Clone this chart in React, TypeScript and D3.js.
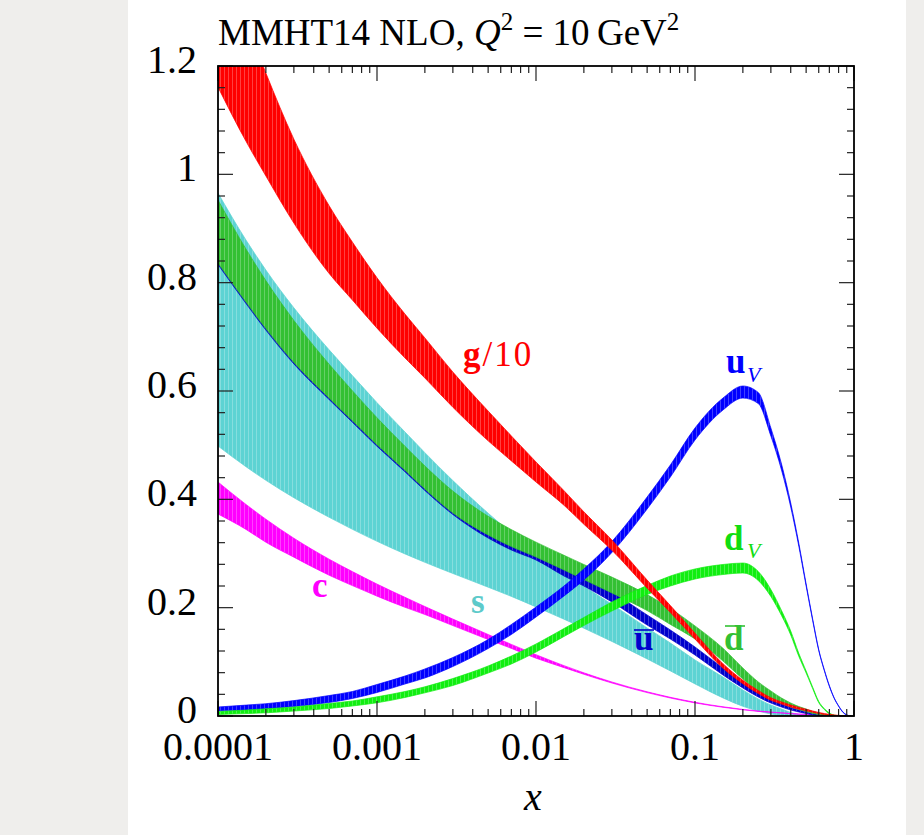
import React from 'react';
import * as d3 from 'd3';

// x grid shared by all bands
const xGrid = [1e-4, 1.5e-4, 2e-4, 3e-4, 5e-4, 7e-4, 1e-3, 1.5e-3, 2e-3, 3e-3, 5e-3, 7e-3, 0.01, 0.015, 0.02, 0.03, 0.05, 0.07, 0.1, 0.15, 0.2, 0.25, 0.3, 0.35, 0.4, 0.45, 0.5, 0.55, 0.6, 0.65, 0.7, 0.75, 0.8, 0.85, 0.9, 0.95];

// g/10
const gUp = [1.399, 1.281, 1.187, 1.065, 0.942, 0.875, 0.809, 0.742, 0.698, 0.635, 0.563, 0.517, 0.469, 0.416, 0.377, 0.325, 0.251, 0.204, 0.153, 0.0965, 0.066, 0.0471, 0.0337, 0.026, 0.0203, 0.0159, 0.0125, 0.0093, 0.0066, 0.0046, 0.0031, 0.002, 0.0012, 0.0005, 0.0002, 0.0001];
const gLo = [1.161, 1.061, 0.997, 0.910, 0.817, 0.768, 0.716, 0.661, 0.624, 0.570, 0.508, 0.471, 0.432, 0.389, 0.354, 0.306, 0.236, 0.191, 0.142, 0.0881, 0.0596, 0.0415, 0.0291, 0.022, 0.0166, 0.0126, 0.0097, 0.0069, 0.0045, 0.0028, 0.0017, 0.0009, 0.0003, 0.0001, 0, 0];

// s (strange)
const sUp = [0.9655, 0.8787, 0.8233, 0.7536, 0.676, 0.6284, 0.5785, 0.5243, 0.4862, 0.4346, 0.3744, 0.3378, 0.3018, 0.2645, 0.2394, 0.2064, 0.1625, 0.1348, 0.1034, 0.072, 0.048, 0.0314, 0.0203, 0.0129, 0.0065, 0.0028, 0.0009, 0, 0, 0, 0, 0, 0, 0, 0, 0];
const sLo = [0.4984, 0.4602, 0.4351, 0.403, 0.3668, 0.3447, 0.3225, 0.2992, 0.2837, 0.2631, 0.2378, 0.2208, 0.2014, 0.1787, 0.1621, 0.1377, 0.1054, 0.0833, 0.0593, 0.0334, 0.0179, 0.0092, 0.0037, 0.0009, 0, 0, 0, 0, 0, 0, 0, 0, 0, 0, 0, 0];

// dbar
const dbUp = [0.9526, 0.8621, 0.8038, 0.7303, 0.6494, 0.6005, 0.5507, 0.4979, 0.4617, 0.4152, 0.3687, 0.3441, 0.321, 0.2967, 0.2797, 0.2564, 0.2241, 0.1986, 0.1663, 0.125, 0.0886, 0.0628, 0.0462, 0.0332, 0.024, 0.0175, 0.0129, 0.0083, 0.0055, 0.0031, 0.0018, 0.0009, 0.0003, 0, 0, 0];
const dbLo = [0.8363, 0.7643, 0.7152, 0.6528, 0.587, 0.5451, 0.5008, 0.4536, 0.4191, 0.3748, 0.3341, 0.3127, 0.2935, 0.2695, 0.252, 0.2271, 0.1946, 0.1691, 0.1421, 0.1015, 0.0683, 0.0462, 0.0332, 0.024, 0.0166, 0.012, 0.0083, 0.0046, 0.0028, 0.0015, 0.0006, 0, 0, 0, 0, 0];

// ubar
const ubUp = [0.8511, 0.7791, 0.73, 0.6676, 0.6018, 0.5599, 0.5156, 0.4684, 0.4339, 0.3896, 0.3471, 0.3231, 0.3028, 0.2769, 0.2584, 0.2289, 0.1865, 0.1588, 0.1274, 0.0886, 0.0628, 0.0443, 0.0314, 0.0222, 0.0157, 0.0111, 0.0074, 0.0046, 0.0028, 0.0015, 0.0006, 0, 0, 0, 0, 0];
const ubLo = [0.8335, 0.7615, 0.7124, 0.65, 0.5842, 0.5423, 0.498, 0.4508, 0.4163, 0.372, 0.3286, 0.3064, 0.288, 0.2585, 0.24, 0.2105, 0.168, 0.1421, 0.1126, 0.0757, 0.0517, 0.0351, 0.024, 0.0166, 0.0111, 0.0074, 0.0046, 0.0024, 0.0011, 0.0004, 0, 0, 0, 0, 0, 0];

// charm
const cUp = [0.432, 0.3906, 0.3633, 0.3282, 0.2895, 0.2666, 0.2435, 0.2191, 0.2021, 0.1789, 0.1505, 0.1322, 0.1132, 0.093, 0.0797, 0.0628, 0.0447, 0.0345, 0.0253, 0.017, 0.0122, 0.0092, 0.0074, 0.0059, 0.0046, 0.0037, 0.0031, 0.0026, 0.002, 0.0017, 0.0013, 0.001, 0.0007, 0.0005, 0.0003, 0.0001];
const cLo = [0.3729, 0.3445, 0.3208, 0.2932, 0.2599, 0.2407, 0.2213, 0.2007, 0.1874, 0.1669, 0.1412, 0.1248, 0.1067, 0.0893, 0.077, 0.0609, 0.0432, 0.0332, 0.0242, 0.0161, 0.0114, 0.0085, 0.0066, 0.0054, 0.0041, 0.0033, 0.0028, 0.0022, 0.0017, 0.0013, 0.0009, 0.0007, 0.0005, 0.0003, 0.0001, 0];

// u valence
const uvUp = [0.0166, 0.0201, 0.0227, 0.0284, 0.0378, 0.0452, 0.0582, 0.0738, 0.0868, 0.108, 0.1412, 0.1689, 0.2012, 0.24, 0.2714, 0.3221, 0.4043, 0.4634, 0.5317, 0.587, 0.6092, 0.5972, 0.5317, 0.4652, 0.3932, 0.3184, 0.2437, 0.1786, 0.1228, 0.0858, 0.0561, 0.0338, 0.0189, 0.0078, 0.0021, 0.0004];
const uvLo = [0.0092, 0.0109, 0.0135, 0.0174, 0.0249, 0.0323, 0.0434, 0.0591, 0.0702, 0.0914, 0.1246, 0.1505, 0.1828, 0.2215, 0.2511, 0.3018, 0.3821, 0.4412, 0.5095, 0.5649, 0.587, 0.5769, 0.5169, 0.4541, 0.3858, 0.3129, 0.24, 0.1758, 0.1209, 0.084, 0.0546, 0.0327, 0.018, 0.007, 0.0016, 0.0002];

// d valence
const dvUp = [0.0083, 0.011, 0.0133, 0.0166, 0.0231, 0.0277, 0.0354, 0.0452, 0.0539, 0.0692, 0.0923, 0.1108, 0.1329, 0.1615, 0.1818, 0.2105, 0.2409, 0.2584, 0.2714, 0.2797, 0.2824, 0.2668, 0.2335, 0.1948, 0.1569, 0.1154, 0.0831, 0.0531, 0.027, 0.0138, 0.0054, 0.0018, 0.0003, 0, 0, 0];
const dvLo = [0.0028, 0.0045, 0.0059, 0.0092, 0.0138, 0.0185, 0.0244, 0.0342, 0.0428, 0.0563, 0.0794, 0.096, 0.1181, 0.1468, 0.1671, 0.1938, 0.2243, 0.24, 0.2529, 0.2612, 0.264, 0.2501, 0.2206, 0.1855, 0.1495, 0.1098, 0.0794, 0.0503, 0.0247, 0.012, 0.0039, 0.0008, 0, 0, 0, 0];

const xTickValues = [1e-4, 1e-3, 1e-2, 1e-1, 1];
const xTickLabels = ['0.0001', '0.001', '0.01', '0.1', '1'];
const yTickValues = [0, 0.2, 0.4, 0.6, 0.8, 1, 1.2];
const yTickLabels = ['0', '0.2', '0.4', '0.6', '0.8', '1', '1.2'];

const bands = [
  { id: 's', up: sUp, lo: sLo, color: '#5dd3d3' },
  { id: 'c', up: cUp, lo: cLo, color: '#ff00ff' },
  { id: 'ub', up: ubUp, lo: ubLo, color: '#0000cc' },
  { id: 'db', up: dbUp, lo: dbLo, color: '#33c033' },
  { id: 'uv', up: uvUp, lo: uvLo, color: '#0000ff' },
  { id: 'dv', up: dvUp, lo: dvLo, color: '#11ee11' },
  { id: 'g', up: gUp, lo: gLo, color: '#ff0000' },
];

const W = 924, H = 835;
const L = 218, R = 854, T = 66, B = 716;
const serif = "'Liberation Serif', 'Times New Roman', serif";

export default function App() {
  const x = d3.scaleLog().domain([1e-4, 1]).range([L, R]);
  const y = d3.scaleLinear().domain([0, 1.2]).range([B, T]);

  const minorX: number[] = [];
  for (let e = -4; e < 0; e++) for (let k = 2; k <= 9; k++) minorX.push(k * Math.pow(10, e));
  const minorY: number[] = d3.range(0, 1.2001, 0.04).filter((v) => Math.abs(v / 0.2 - Math.round(v / 0.2)) > 1e-6);

  const area = (up: number[], lo: number[]) =>
    d3.area<number>()
      .x((i) => x(xGrid[i]))
      .y0((i) => y(lo[i]))
      .y1((i) => y(up[i]))
      .curve(d3.curveMonotoneX)(d3.range(xGrid.length)) as string;

  const tick = '#222';
  return (
    <svg width={W} height={H} style={{ position: 'absolute', left: 0, top: 0 }}>
      <defs>
        <clipPath id="plot"><rect x={L} y={T} width={R - L} height={B - T} /></clipPath>
        {bands.map((b) => (
          <pattern key={b.id} id={'p-' + b.id} width={4} height={8} patternUnits="userSpaceOnUse">
            <rect width={4} height={8} fill={b.color} />
            <rect x={0} width={0.9} height={8} fill="#ffffff" opacity={0.28} />
          </pattern>
        ))}
      </defs>
      <rect width={W} height={H} fill="#efeeec" />
      <rect x={128} y={0} width={778} height={H} fill="#ffffff" />

      <g clipPath="url(#plot)">
        {bands.map((b) => (
          <path key={b.id} d={area(b.up, b.lo)} fill={`url(#p-${b.id})`} stroke={b.color} strokeWidth={0.7} />
        ))}
      </g>

      {/* ticks */}
      <g stroke={tick} strokeWidth={1.2}>
        {xTickValues.map((v) => (
          <g key={'xt' + v}>
            <line x1={x(v)} x2={x(v)} y1={B} y2={B - 15} />
            <line x1={x(v)} x2={x(v)} y1={T} y2={T + 15} />
          </g>
        ))}
        {minorX.map((v) => (
          <g key={'xm' + v}>
            <line x1={x(v)} x2={x(v)} y1={B} y2={B - 7} />
            <line x1={x(v)} x2={x(v)} y1={T} y2={T + 7} />
          </g>
        ))}
        {yTickValues.map((v) => (
          <g key={'yt' + v}>
            <line x1={L} x2={L + 15} y1={y(v)} y2={y(v)} />
            <line x1={R} x2={R - 15} y1={y(v)} y2={y(v)} />
          </g>
        ))}
        {minorY.map((v) => (
          <g key={'ym' + v}>
            <line x1={L} x2={L + 7} y1={y(v)} y2={y(v)} />
            <line x1={R} x2={R - 7} y1={y(v)} y2={y(v)} />
          </g>
        ))}
      </g>
      <rect x={L} y={T} width={R - L} height={B - T} fill="none" stroke="#000" strokeWidth={1.8} />

      {/* tick labels */}
      <g fontFamily={serif} fontSize={40} fill="#000">
        {xTickValues.map((v, i) => (
          <text key={'xl' + v} x={x(v)} y={760} textAnchor="middle">{xTickLabels[i]}</text>
        ))}
        {yTickValues.map((v, i) => (
          <text key={'yl' + v} x={197} y={y(v) + 7} textAnchor="end">{yTickLabels[i]}</text>
        ))}
        <text x={533} y={810} textAnchor="middle" fontStyle="italic">x</text>
      </g>

      {/* title */}
      <text x={218} y={45} fontFamily={serif} fontSize={37} fill="#000" style={{ whiteSpace: 'pre' }}>
        <tspan>MMHT14 NLO, </tspan>
        <tspan fontStyle="italic">Q</tspan>
        <tspan fontSize={25} dy={-15}>2</tspan>
        <tspan dy={15}>{' = 10\u2009GeV'}</tspan>
        <tspan fontSize={25} dy={-15}>2</tspan>
      </text>

      {/* band labels */}
      <g fontFamily={serif} fontSize={35}>
        <text x={463} y={366} fill="#ff0000"><tspan fontWeight="bold">g</tspan><tspan dx={2} letterSpacing={2}>/10</tspan></text>
        <text x={726} y={373} fill="#0000ff" fontWeight="bold">u</text>
        <text x={747} y={382} fill="#0000ff" fontSize={22} fontStyle="italic">V</text>
        <text x={724} y={550} fill="#11dd11" fontWeight="bold">d</text>
        <text x={747} y={558} fill="#11dd11" fontSize={22} fontStyle="italic">V</text>
        <text x={724} y={650} fill="#33c033" fontWeight="bold">d</text>
        <line x1={725} x2={745} y1={626} y2={626} stroke="#33c033" strokeWidth={1.6} />
        <text x={634} y={650} fill="#0000cc" fontWeight="bold">u</text>
        <line x1={634} x2={654} y1={630} y2={630} stroke="#0000cc" strokeWidth={1.6} />
        <text x={471} y={613} fill="#5dcaca" fontWeight="bold">s</text>
        <text x={312} y={597} fill="#ff00ff" fontWeight="bold">c</text>
      </g>
    </svg>
  );
}
